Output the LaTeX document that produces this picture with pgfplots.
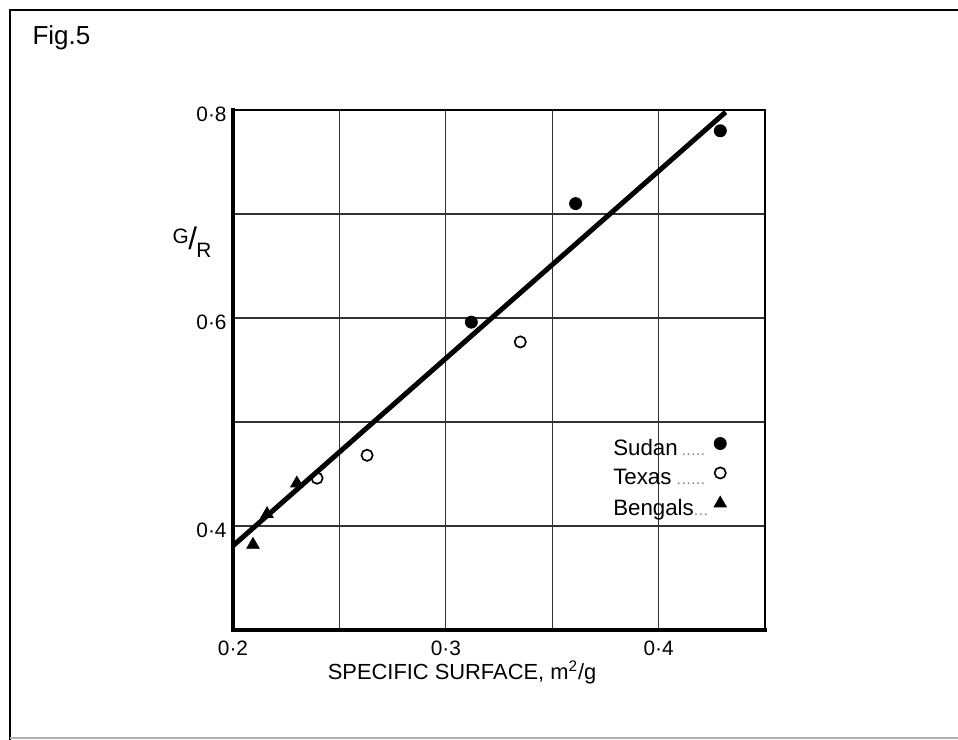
\documentclass[border=0pt]{standalone}
\usepackage{fontspec}
\setmainfont{Liberation Sans}
\usepackage{pgfplots}
\pgfplotsset{compat=1.18}
\newcommand\dd[1]{{\color{black!55}\fontsize{7}{7}\selectfont\foreach \i in {1,...,#1}{\hbox to 2.3pt{\hss.\hss}}}}
\begin{document}
\begin{tikzpicture}
\useasboundingbox (0,0) rectangle (459.84pt,355.2pt);
\draw[line width=1.4pt] (4.8pt,0) -- (4.8pt,350.4pt) -- (459.84pt,350.4pt);
\draw[line width=0.8pt, black!30] (4.8pt,1pt) -- (459.84pt,1pt);
\node[anchor=base west, inner sep=0pt, font=\fontsize{12.5}{14}\selectfont] at (15.4pt,333.6pt) {Fig.5};
\begin{axis}[
  at={(111.84pt,52.8pt)}, anchor=south west,
  scale only axis, width=255.36pt, height=249.6pt,
  xmin=0.2, xmax=0.45, ymin=0.3, ymax=0.8,
  xtick={0.2,0.3,0.4}, xticklabels={0·2,0·3,0·4},
  minor xtick={0.25,0.35,0.45},
  ytick={0.4,0.6,0.8}, yticklabels={0·4,0·6,0·8},
  minor ytick={0.3,0.5,0.7},
  major tick length=0pt, minor tick length=0pt,
  grid=both,
  major grid style={line width=0.5pt, black!80},
  minor grid style={line width=0.5pt, black!80},
  axis line style={line width=1pt},
  /pgf/number format/assume math mode=true,
  ticklabel style={font=\fontsize{10}{11}\selectfont, inner sep=0pt},
  xticklabel style={yshift=-5pt},
  yticklabel style={xshift=-2.9pt, yshift=-2pt},
  legend style={at={(rel axis cs:0.714,0.371)}, anchor=north west, draw=none, fill=none,
    inner sep=0pt, nodes={inner sep=0pt}, row sep=4.2pt, column sep=4.2pt,
    font=\fontsize{10.7}{12}\selectfont},
  legend cell align=left,
  legend plot pos=right,
  legend image code/.code={\draw[mark repeat=2,mark phase=2,#1] plot coordinates {(-0.5pt,2.6pt) (0pt,2.6pt) (0.5pt,2.6pt)};},
  after end axis/.code={\draw[line width=1.8pt, line cap=rect] (rel axis cs:0,1) -- (rel axis cs:0,0) -- (rel axis cs:1,0);},
]
\addplot[line width=2.4pt, black, no marks, forget plot] coordinates {(0.2,0.381) (0.4315,0.798)};
\addplot[only marks, mark=*, mark size=2.9pt, black] coordinates {
  (0.312,0.596) (0.361,0.710) (0.429,0.780)};
\addlegendentry{\hbox to 44.2pt{Sudan\hfil\dd{5}}}
\addplot[only marks, mark=o, mark size=2.7pt, black, mark options={fill=white, line width=0.8pt}] coordinates {
  (0.2395,0.446) (0.263,0.468) (0.335,0.577)};
\addlegendentry{\hbox to 44.2pt{Texas\hfil\dd{6}}}
\addplot[only marks, mark=triangle*, mark size=3.4pt, black] coordinates {
  (0.2094,0.382) (0.216,0.4115) (0.230,0.441)};
\addlegendentry{\hbox to 44.2pt{Bengals\hfil\dd{3}}}
\end{axis}
\node[inner sep=0pt] at (92.2pt,239pt) {\fontsize{10}{11}\selectfont\raisebox{3pt}{G}\hspace{-0.3pt}{\fontsize{15}{15}\selectfont/}\hspace{-0.3pt}\raisebox{-3.5pt}{R}};
\node[anchor=base, inner sep=0pt, font=\fontsize{10.5}{12}\selectfont] at (221.8pt,28.8pt) {SPECIFIC SURFACE, m\textsuperscript{2}/g};
\end{tikzpicture}
\end{document}
